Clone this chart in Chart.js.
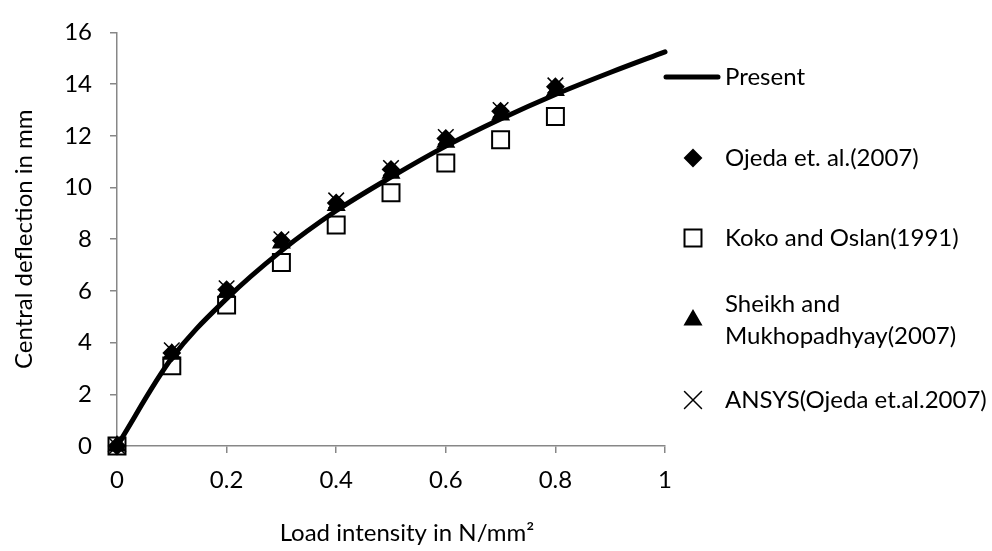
<!DOCTYPE html>
<html>
<head>
<meta charset="utf-8">
<script src="https://cdn.jsdelivr.net/npm/chart.js@4.4.1/dist/chart.umd.min.js"></script>
<style>
  html, body { margin: 0; padding: 0; background: #fff; }
  #wrap { width: 992px; height: 551px; position: relative; }
</style>
</head>
<body>
<div id="wrap"><canvas id="chart"></canvas></div>
<script>
// values
const loads = [0, 0.1, 0.2, 0.3, 0.4, 0.5, 0.6, 0.7, 0.8];
const presentLoads = [0, 0.1, 0.2, 0.3, 0.4, 0.5, 0.6, 0.7, 0.8, 0.9, 1.0];
const present = [0, 3.4, 5.7, 7.55, 9.1, 10.4, 11.6, 12.65, 13.6, 14.45, 15.25];
const ojeda = [0, 3.6, 6.05, 7.95, 9.4, 10.7, 11.9, 12.95, 13.9];
const koko = [0, 3.1, 5.45, 7.1, 8.55, 9.8, 10.95, 11.85, 12.75];
const sheikh = [0, 3.55, 5.95, 7.85, 9.3, 10.55, 11.75, 12.8, 13.75];
const ansys = [0, 3.7, 6.1, 8.0, 9.5, 10.75, 11.95, 13.0, 13.95];
const xTicks = [0, 0.2, 0.4, 0.6, 0.8, 1];
const yTicks = [0, 2, 4, 6, 8, 10, 12, 14, 16];

const FONT = "Lato, 'Open Sans', sans-serif";
const AXIS = "#878787";
const INK = "#000";

const pts = (xs, ys) => ys.map((y, i) => ({ x: xs[i], y }));

const marker = (label, data, style, radius, fill) => ({
  type: "scatter", label, data: pts(loads, data), showLine: false, clip: false,
  pointStyle: style, pointRadius: radius, pointHoverRadius: radius,
  pointBackgroundColor: fill, pointBorderColor: INK, pointBorderWidth: style === "crossRot" ? 1.5 : 2,
});

const seriesMeta = [
  { label: "Present", kind: "line", y: 77 },
  { label: "Ojeda et. al.(2007)", style: "rectRot", r: 8, fill: INK, y: 158 },
  { label: "Koko and Oslan(1991)", style: "rect", r: 12, fill: "rgba(0,0,0,0)", y: 238 },
  { label: ["Sheikh and", "Mukhopadhyay(2007)"], style: "triangle", r: 9, fill: INK, y: 320 },
  { label: "ANSYS(Ojeda et.al.2007)", style: "crossRot", r: 12, fill: INK, y: 400 },
];

// legend on the right, drawn by hand so the long name can wrap
const sideLegend = {
  id: "sideLegend",
  afterDraw(chart) {
    const ctx = chart.ctx;
    ctx.save();
    ctx.font = "24px " + FONT;
    ctx.fillStyle = INK;
    ctx.textBaseline = "middle";
    ctx.textAlign = "left";
    seriesMeta.forEach((m) => {
      if (m.kind === "line") {
        ctx.strokeStyle = INK; ctx.lineWidth = 5; ctx.lineCap = "round";
        ctx.beginPath(); ctx.moveTo(666, m.y); ctx.lineTo(718, m.y); ctx.stroke();
      } else {
        ctx.fillStyle = m.fill; ctx.strokeStyle = INK;
        ctx.lineWidth = m.style === "crossRot" ? 1.5 : 2;
        Chart.helpers.drawPoint(ctx, { pointStyle: m.style, radius: m.r, rotation: 0, borderWidth: ctx.lineWidth }, 693, m.y);
        ctx.fillStyle = INK;
      }
      const lines = Array.isArray(m.label) ? m.label : [m.label];
      const y0 = m.y - (lines.length - 1) * 16;
      lines.forEach((t, i) => ctx.fillText(t, 725, y0 + i * 32));
    });
    // x axis title sits a little right of the plot centre in the original
    ctx.textAlign = "center";
    ctx.fillText("Load intensity in N/mm²", 407, 533);
    ctx.restore();
  },
};

new Chart(document.getElementById("chart"), {
  type: "scatter",
  data: {
    datasets: [
      {
        type: "line", label: "Present", data: pts(presentLoads, present), clip: false,
        borderColor: INK, borderWidth: 5, pointRadius: 0, fill: false,
        cubicInterpolationMode: "monotone", borderCapStyle: "round",
      },
      marker("Ojeda et. al.(2007)", ojeda, "rectRot", 8, INK),
      marker("Koko and Oslan(1991)", koko, "rect", 12, "rgba(0,0,0,0)"),
      marker("Sheikh and Mukhopadhyay(2007)", sheikh, "triangle", 9, INK),
      marker("ANSYS(Ojeda et.al.2007)", ansys, "crossRot", 11, INK),
    ],
  },
  options: {
    responsive: true, maintainAspectRatio: false, animation: false,
    layout: { padding: { top: 20, right: 327, left: 0, bottom: 0 } },
    plugins: { legend: { display: false }, tooltip: { enabled: false } },
    scales: {
      x: {
        type: "linear", min: 0, max: 1,
        afterBuildTicks: (s) => { s.ticks = xTicks.map((v) => ({ value: v })); },
        afterFit: (s) => { s.height = 105; },
        grid: { drawOnChartArea: false, tickLength: 7, color: AXIS, lineWidth: 1.5 },
        border: { color: AXIS, width: 1.5 },
        ticks: { color: INK, padding: 13, font: { family: FONT, size: 24 }, maxRotation: 0,
                 callback: (v) => String(+(+v).toFixed(1)) },
      },
      y: {
        min: 0, max: 16,
        afterBuildTicks: (s) => { s.ticks = yTicks.map((v) => ({ value: v })); },
        afterFit: (s) => { s.width = 117; },
        grid: { drawOnChartArea: false, tickLength: 7, color: AXIS, lineWidth: 1.5 },
        border: { color: AXIS, width: 1.5 },
        ticks: { color: INK, padding: 18, font: { family: FONT, size: 24 } },
        title: { display: true, text: "Central deflection in mm", color: INK,
                 font: { family: FONT, size: 24 }, padding: { top: 10, bottom: 0 } },
      },
    },
  },
  plugins: [sideLegend],
});
</script>
</body>
</html>
